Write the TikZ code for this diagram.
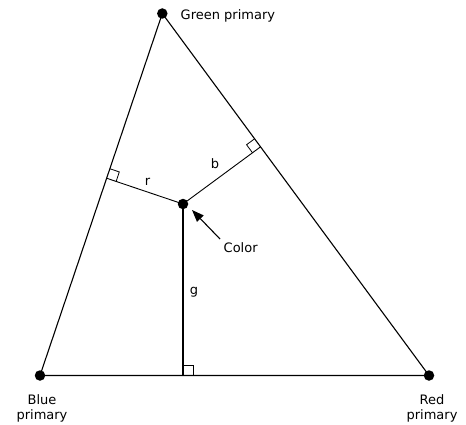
\documentclass[tikz,border=0pt]{standalone}
\usepackage{fontspec}
\setmainfont{DejaVu Sans}
\usetikzlibrary{calc,arrows.meta}
\begin{document}
\begin{tikzpicture}[x=1pt,y=-1pt,
  dot/.style={circle,fill=black,inner sep=0pt,minimum size=10.5pt},
  edge/.style={line width=1.1pt},
  thin/.style={line width=0.9pt},
  lbl/.style={font=\fontsize{13}{15}\selectfont,inner sep=0pt},
  corner/.style={line width=0.8pt}]
\useasboundingbox (0,0) rectangle (466,425);
\node[dot] (G) at (162.3,13.5) {};
\node[dot] (B) at (40,375.5) {};
\node[dot] (R) at (429,375.5) {};
\node[dot] (C) at (183,204) {};
\coordinate (FB) at ($(B)!(C)!(G)$);
\coordinate (FR) at ($(G)!(C)!(R)$);
\coordinate (FG) at ($(B)!(C)!(R)$);
\draw[edge] (B.center) -- (G.center) -- (R.center) -- (B.center);
\draw[thin] (C.center) -- (FB);
\draw[thin] (C.center) -- (FR);
\draw[line width=1.9pt] (C.center) -- (FG);
% right-angle markers
\draw[corner] ($(FB)!10pt!(G)$) -- ($($(FB)!10pt!(G)$)+($(FB)!10pt!(C)$)-(FB)$) -- ($(FB)!10pt!(C)$);
\draw[corner] ($(FR)!10pt!(G)$) -- ($($(FR)!10pt!(G)$)+($(FR)!10pt!(C)$)-(FR)$) -- ($(FR)!10pt!(C)$);
\draw[corner] ($(FG)!10pt!(R)$) -- ($($(FG)!10pt!(R)$)+($(FG)!10pt!(C)$)-(FG)$) -- ($(FG)!10pt!(C)$);
% labels
\node[lbl,anchor=base west] (Gl) at (180.5,20) {Green primary};
\node[lbl,align=center] (Bl) at (42,408.5) {Blue\\primary};
\node[lbl,align=center] (Rl) at (432,408.5) {Red\\primary};
\node[lbl,anchor=base west] (Cl) at (223.5,252) {Color};
\node[lbl] (rl) at (147.5,182) {r};
\node[lbl] (bl) at (215,164) {b};
\node[lbl] (gl) at (194,292) {g};
\coordinate (tail) at (220,239);
\coordinate (tip) at (192,210);
\draw[line width=1.1pt,-{Triangle[length=12pt,width=9pt]}] (tail) -- (tip);
\end{tikzpicture}
\end{document}
